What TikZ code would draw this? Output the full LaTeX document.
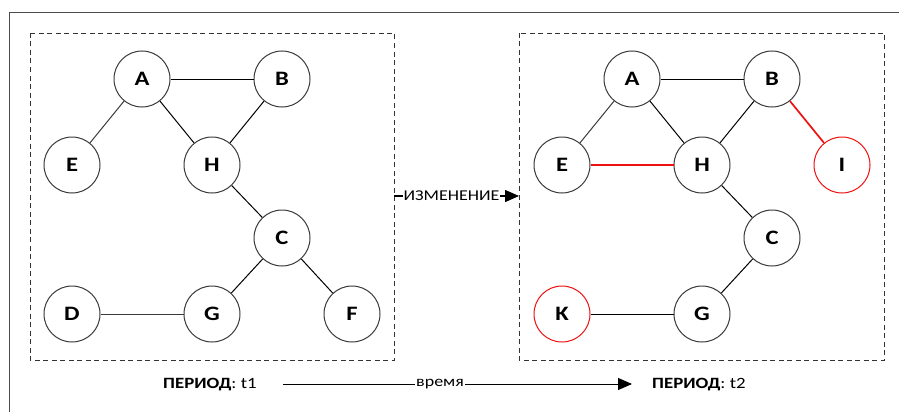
\documentclass[tikz,border=0pt]{standalone}
\usepackage{fontspec}
\setmainfont[FakeStretch=1.2]{Carlito}
\usetikzlibrary{arrows.meta}
\definecolor{edgegray}{HTML}{3A3A3A}
\definecolor{redc}{HTML}{EE1111}
\tikzset{
  vtx/.style={circle,draw=edgegray,line width=1pt,minimum size=56pt,inner sep=0pt,font=\bfseries\fontsize{20.5}{20.5}\selectfont},
  rvtx/.style={vtx,draw=redc},
  edge/.style={draw=black,line width=1pt},
  redge/.style={draw=redc,line width=1.7pt},
  frame/.style={draw=black!80,dash pattern=on 5pt off 3.5pt,line width=0.9pt},
  lbl/.style={font=\fontsize{15}{15}\selectfont,inner sep=1pt,fill=white},
  per/.style={font=\fontsize{15.7}{15.7}\selectfont,inner sep=0pt},
  tip/.style={-{Triangle[length=14pt,width=12pt]}}
}
\begin{document}
\begin{tikzpicture}[x=1pt,y=-1pt]
\useasboundingbox (0,0) rectangle (899,412);
\draw[draw=black!70,line width=0.9pt] (9,412) -- (9,12) -- (899,12);
% boxes
\draw[frame] (30,33) rectangle (394,360);
\draw[frame] (519,33) rectangle (884,360);
% left graph
\node[vtx] (lA) at (142,79) {A};
\node[vtx] (lB) at (282,79) {B};
\node[vtx] (lE) at (72,165) {E};
\node[vtx] (lH) at (212,165) {H};
\node[vtx] (lC) at (282,238) {C};
\node[vtx] (lD) at (72,314) {D};
\node[vtx] (lG) at (212,314) {G};
\node[vtx] (lF) at (352,314) {F};
\draw[edge] (lA) -- (lB);
\draw[edge,draw=edgegray] (lA) -- (lE);
\draw[edge] (lA) -- (lH);
\draw[edge] (lB) -- (lH);
\draw[edge] (lH) -- (lC);
\draw[edge] (lC) -- (lG);
\draw[edge] (lC) -- (lF);
\draw[edge,draw=edgegray] (lD) -- (lG);
% right graph
\node[vtx] (rA) at (632,79) {A};
\node[vtx] (rB) at (772,79) {B};
\node[vtx] (rE) at (562,165) {E};
\node[vtx] (rH) at (702,165) {H};
\node[rvtx] (rI) at (842,165) {I};
\node[vtx] (rC) at (772,238) {C};
\node[rvtx] (rK) at (562,314) {K};
\node[vtx] (rG) at (702,314) {G};
\draw[edge] (rA) -- (rB);
\draw[edge,draw=edgegray] (rA) -- (rE);
\draw[edge] (rA) -- (rH);
\draw[edge] (rB) -- (rH);
\draw[redge] (rB) -- (rI);
\draw[redge] (rE) -- (rH);
\draw[edge] (rH) -- (rC);
\draw[edge] (rC) -- (rG);
\draw[edge] (rK) -- (rG);
% change arrow
\coordinate (c1) at (394,196);
\coordinate (c2) at (519,196);
\draw[edge,line width=1.4pt,tip] (c1) -- node[lbl,pos=0.46] {ИЗМЕНЕНИЕ} (c2);
% time arrow
\node[per,anchor=west] (p1) at (163,385) {\textbf{ПЕРИОД}: t1};
\node[per,anchor=west] (p2) at (652,385) {\textbf{ПЕРИОД}: t2};
\coordinate (t1) at (283,384);
\coordinate (t2) at (632,384);
\draw[edge,tip] (t1) -- node[lbl,pos=0.45] {время} (t2);
\end{tikzpicture}
\end{document}
